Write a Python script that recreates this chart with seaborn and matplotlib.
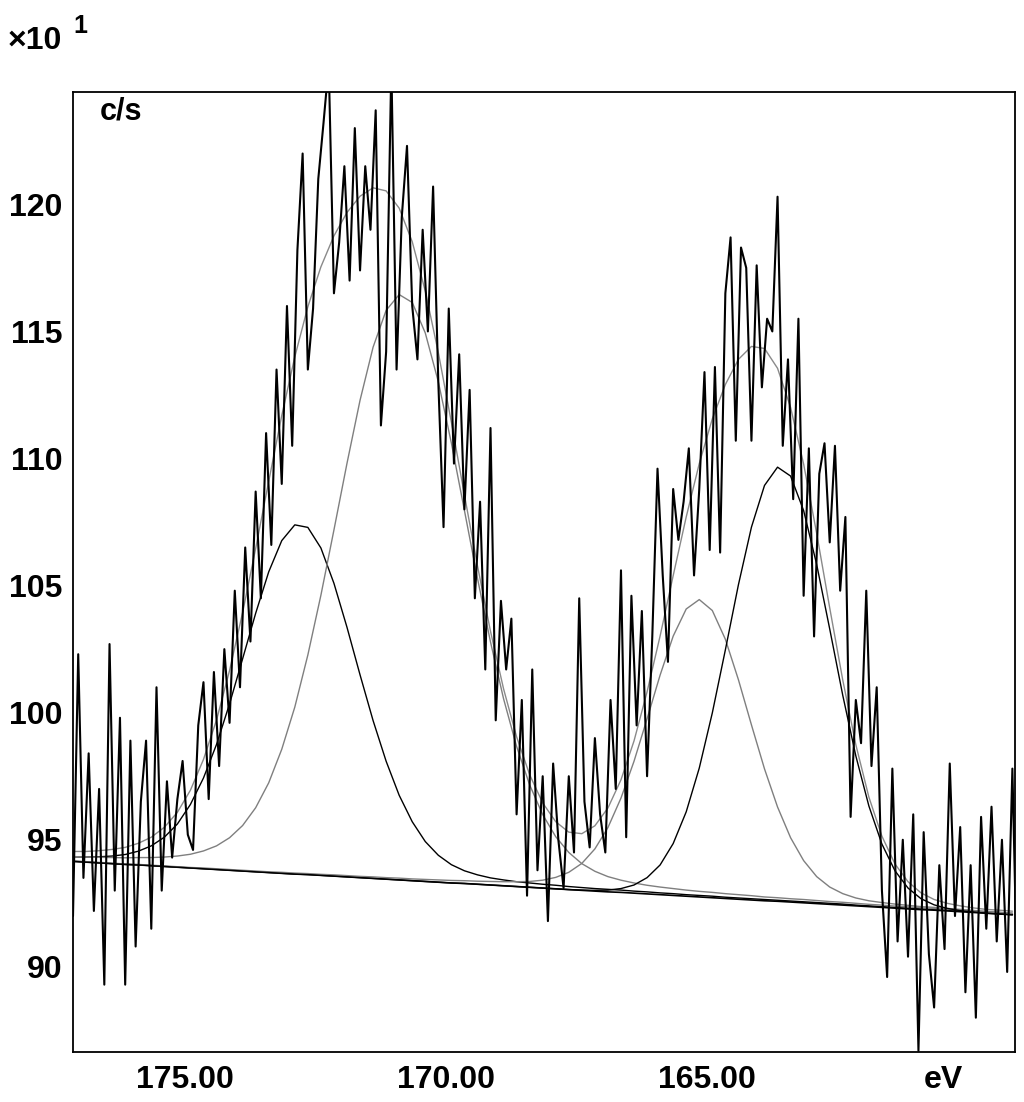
import numpy as np
import matplotlib
matplotlib.use("Agg")
import matplotlib.pyplot as plt
import matplotlib.transforms as mtransforms
import seaborn as sns

# ----------------------------------------
# Measured spectrum: 0.1 eV steps from 177.0 eV down
# ----------------------------------------
scan_start = 177.0
scan_step = 0.1
counts = [
    92.0, 102.3, 93.5, 98.4, 92.2, 97.0, 89.3, 102.7, 93.0, 99.8,
    89.3, 98.9, 90.8, 96.5, 98.9, 91.5, 101.0, 93.0, 97.3, 94.3,
    96.6, 98.1, 95.2, 94.6, 99.5, 101.2, 96.6, 101.6, 97.9, 102.5,
    99.6, 104.8, 101.0, 106.5, 102.8, 108.7, 104.5, 111.0, 106.6, 113.5,
    109.0, 116.0, 110.5, 118.2, 122.0, 113.5, 115.9, 121.0, 123.2, 125.5,
    116.5, 118.5, 121.5, 117.0, 123.0, 117.4, 121.5, 119.0, 123.7, 111.3,
    114.2, 125.5, 113.5, 119.5, 122.3, 116.0, 113.9, 119.0, 115.0, 120.7,
    113.0, 107.3, 115.9, 109.8, 114.1, 108.0, 112.7, 104.5, 108.3, 101.7,
    111.2, 99.7, 104.4, 101.7, 103.7, 96.0, 100.5, 92.8, 101.7, 93.8,
    97.5, 91.8, 98.0, 95.0, 93.1, 97.5, 94.5, 104.5, 96.5, 94.7,
    99.0, 96.0, 94.5, 100.5, 97.0, 105.6, 95.1, 104.6, 99.5, 104.0,
    97.5, 103.0, 109.6, 105.4, 102.0, 108.8, 106.8, 108.3, 110.4, 105.4,
    108.8, 113.4, 106.4, 113.6, 106.3, 116.5, 118.7, 110.7, 118.3, 117.5,
    110.7, 117.6, 112.8, 115.5, 115.0, 120.3, 110.5, 113.9, 108.4, 115.5,
    104.6, 110.4, 103.0, 109.4, 110.6, 106.7, 110.5, 104.8, 107.7, 95.9,
    100.5, 98.8, 104.8, 97.9, 101.0, 93.0, 89.6, 97.8, 91.0, 95.0,
    90.4, 96.0, 86.7, 95.3, 90.5, 88.4, 94.0, 90.7, 98.0, 92.0,
    95.5, 89.0, 94.0, 88.0, 95.9, 91.5, 96.3, 91.0, 95.0, 89.8,
    97.8, 88.6,
]

# ----------------------------------------
# Fit curves: 0.25 eV steps from 177.0 eV down
# ----------------------------------------
fit_start = 177.0
fit_step = 0.25
background = [
    94.15, 94.12, 94.09, 94.06, 94.03, 94.01, 93.98, 93.95,
    93.92, 93.89, 93.86, 93.83, 93.80, 93.77, 93.74, 93.71,
    93.68, 93.65, 93.63, 93.60, 93.57, 93.54, 93.51, 93.48,
    93.45, 93.42, 93.39, 93.36, 93.33, 93.30, 93.28, 93.25,
    93.22, 93.19, 93.16, 93.13, 93.10, 93.07, 93.04, 93.01,
    92.98, 92.95, 92.93, 92.90, 92.87, 92.84, 92.81, 92.78,
    92.75, 92.72, 92.69, 92.66, 92.63, 92.60, 92.58, 92.55,
    92.52, 92.49, 92.46, 92.43, 92.40, 92.37, 92.34, 92.31,
    92.28, 92.25, 92.23, 92.20, 92.17, 92.14, 92.11, 92.08,
    92.05,
]
# heights above the background
peak_172 = [
    0.18, 0.20, 0.24, 0.30, 0.39, 0.54, 0.78, 1.15,
    1.70, 2.50, 3.57, 4.92, 6.55, 8.35, 10.17, 11.83,
    13.09, 13.74, 13.66, 12.88, 11.52, 9.82, 7.98, 6.21,
    4.64, 3.33, 2.32, 1.57, 1.06, 0.72, 0.50, 0.37,
    0.28, 0.23, 0.19, 0.17, 0.15, 0.14, 0.12, 0.11,
    0.10, 0.10, 0.09, 0.08, 0.08, 0.07, 0.07, 0.06,
    0.06, 0.06, 0.05, 0.05, 0.05, 0.05, 0.04, 0.04,
    0.04, 0.04, 0.04, 0.04, 0.03, 0.03, 0.03, 0.03,
    0.03, 0.03, 0.03, 0.03, 0.03, 0.02, 0.02, 0.02,
    0.02,
]
peak_170 = [
    0.19, 0.20, 0.22, 0.24, 0.26, 0.29, 0.32, 0.37,
    0.44, 0.54, 0.70, 0.93, 1.28, 1.79, 2.52, 3.53,
    4.88, 6.57, 8.64, 11.02, 13.62, 16.27, 18.78, 20.90,
    22.38, 23.03, 22.75, 21.58, 19.69, 17.31, 14.68, 12.04,
    9.56, 7.36, 5.51, 4.03, 2.89, 2.05, 1.46, 1.05,
    0.78, 0.60, 0.48, 0.40, 0.34, 0.30, 0.27, 0.24,
    0.22, 0.21, 0.19, 0.18, 0.17, 0.15, 0.14, 0.13,
    0.13, 0.12, 0.11, 0.11, 0.10, 0.09, 0.09, 0.08,
    0.08, 0.08, 0.07, 0.07, 0.07, 0.06, 0.06, 0.06,
    0.06,
]
peak_165 = [
    0.02, 0.02, 0.02, 0.02, 0.02, 0.02, 0.02, 0.02,
    0.02, 0.02, 0.03, 0.03, 0.03, 0.03, 0.03, 0.03,
    0.04, 0.04, 0.04, 0.04, 0.05, 0.05, 0.05, 0.06,
    0.06, 0.07, 0.07, 0.08, 0.09, 0.10, 0.11, 0.12,
    0.14, 0.16, 0.19, 0.23, 0.31, 0.45, 0.68, 1.06,
    1.66, 2.53, 3.71, 5.19, 6.89, 8.64, 10.20, 11.30,
    11.70, 11.30, 10.20, 8.64, 6.89, 5.19, 3.71, 2.53,
    1.66, 1.06, 0.68, 0.45, 0.31, 0.23, 0.19, 0.16,
    0.14, 0.12, 0.11, 0.10, 0.09, 0.08, 0.07, 0.07,
    0.06,
]
peak_163 = [
    0.0, 0.0, 0.0, 0.0, 0.0, 0.0, 0.0, 0.0,
    0.0, 0.0, 0.0, 0.0, 0.0, 0.0, 0.0, 0.0,
    0.0, 0.0, 0.0, 0.0, 0.0, 0.0, 0.0, 0.0,
    0.0, 0.0, 0.0, 0.0, 0.0, 0.0, 0.0, 0.0,
    0.0, 0.0, 0.0, 0.0, 0.0, 0.0, 0.0, 0.01,
    0.03, 0.07, 0.15, 0.32, 0.64, 1.17, 2.04, 3.32,
    5.07, 7.27, 9.78, 12.37, 14.67, 16.34, 17.08, 16.76,
    15.43, 13.34, 10.83, 8.25, 5.90, 3.96, 2.49, 1.47,
    0.82, 0.43, 0.21, 0.10, 0.04, 0.02, 0.0, 0.0,
    0.0,
]

x_ticks = [175.0, 170.0, 165.0, 160.0]
x_tick_labels = ["175.00", "170.00", "165.00", "eV"]
y_ticks = [90, 95, 100, 105, 110, 115, 120]

# ----------------------------------------
# Style
# ----------------------------------------
sns.set_style("white")
plt.rcParams["font.family"] = ["Liberation Sans", "DejaVu Sans"]
plt.rcParams["font.weight"] = "bold"
plt.rcParams["text.color"] = "black"

energy = np.round(scan_start - scan_step * np.arange(len(counts)), 2)
fit_energy = np.round(fit_start - fit_step * np.arange(len(background)), 2)
bg = np.array(background)
components = [
    (np.array(peak_172), "black"),
    (np.array(peak_170), "#7f7f7f"),
    (np.array(peak_165), "#7f7f7f"),
    (np.array(peak_163), "black"),
]
envelope = bg + sum(c for c, _ in components)

fig = plt.figure(figsize=(10.24, 11.02), dpi=100)
ax = fig.add_axes([73 / 1024, 1 - 1052 / 1102, 942 / 1024, 960 / 1102])

# ----------------------------------------
# Fit curves, then the raw counts on top
# ----------------------------------------
sns.lineplot(x=fit_energy, y=bg, ax=ax, color="black", linewidth=1.2,
             estimator=None, sort=False)
for comp, col in components:
    sns.lineplot(x=fit_energy, y=bg + comp, ax=ax, color=col, linewidth=1.0,
                 estimator=None, sort=False)
sns.lineplot(x=fit_energy, y=envelope, ax=ax, color="#8a8a8a", linewidth=1.0,
             estimator=None, sort=False)
sns.lineplot(x=energy, y=counts, ax=ax, color="black", linewidth=1.5,
             estimator=None, sort=False)

ax.set_xlim(177.0, 158.95)
ax.set_ylim(86.65, 124.42)
ax.set_xlabel("")
ax.set_ylabel("")

ax.set_xticks(x_ticks)
ax.set_xticklabels(x_tick_labels, fontsize=23, fontweight="bold")
ax.set_yticks(y_ticks)
ax.set_yticklabels([str(v) for v in y_ticks], fontsize=23, fontweight="bold")
ax.tick_params(axis="x", direction="out", length=4.5, width=1.0, pad=5, colors="black")
ax.tick_params(axis="y", direction="out", length=7.5, width=1.0, pad=0, colors="black")

shift = mtransforms.ScaledTranslation(8 / 100, 0, fig.dpi_scale_trans)
for lab in ax.get_xticklabels()[:3]:
    lab.set_transform(lab.get_transform() + shift)
ev_lab = ax.get_xticklabels()[3]
ev_lab.set_horizontalalignment("right")
ev_lab.set_transform(ev_lab.get_transform() + mtransforms.ScaledTranslation(3 / 100, 0, fig.dpi_scale_trans))

for sp in ax.spines.values():
    sp.set_color("black")
    sp.set_linewidth(1.3)
    sp.set_visible(True)

# axis annotations
fig.text(100 / 1024, 1 - 120 / 1102, "c/s", fontsize=22, fontweight="bold",
         ha="left", va="baseline", color="black")
fig.text(8 / 1024, 1 - 49 / 1102, "×10", fontsize=23, fontweight="bold",
         ha="left", va="baseline", color="black")
fig.text(73 / 1024, 1 - 33 / 1102, "1", fontsize=18, fontweight="bold",
         ha="left", va="baseline", color="black")

fig.savefig("out.png", dpi=100, facecolor="white")
